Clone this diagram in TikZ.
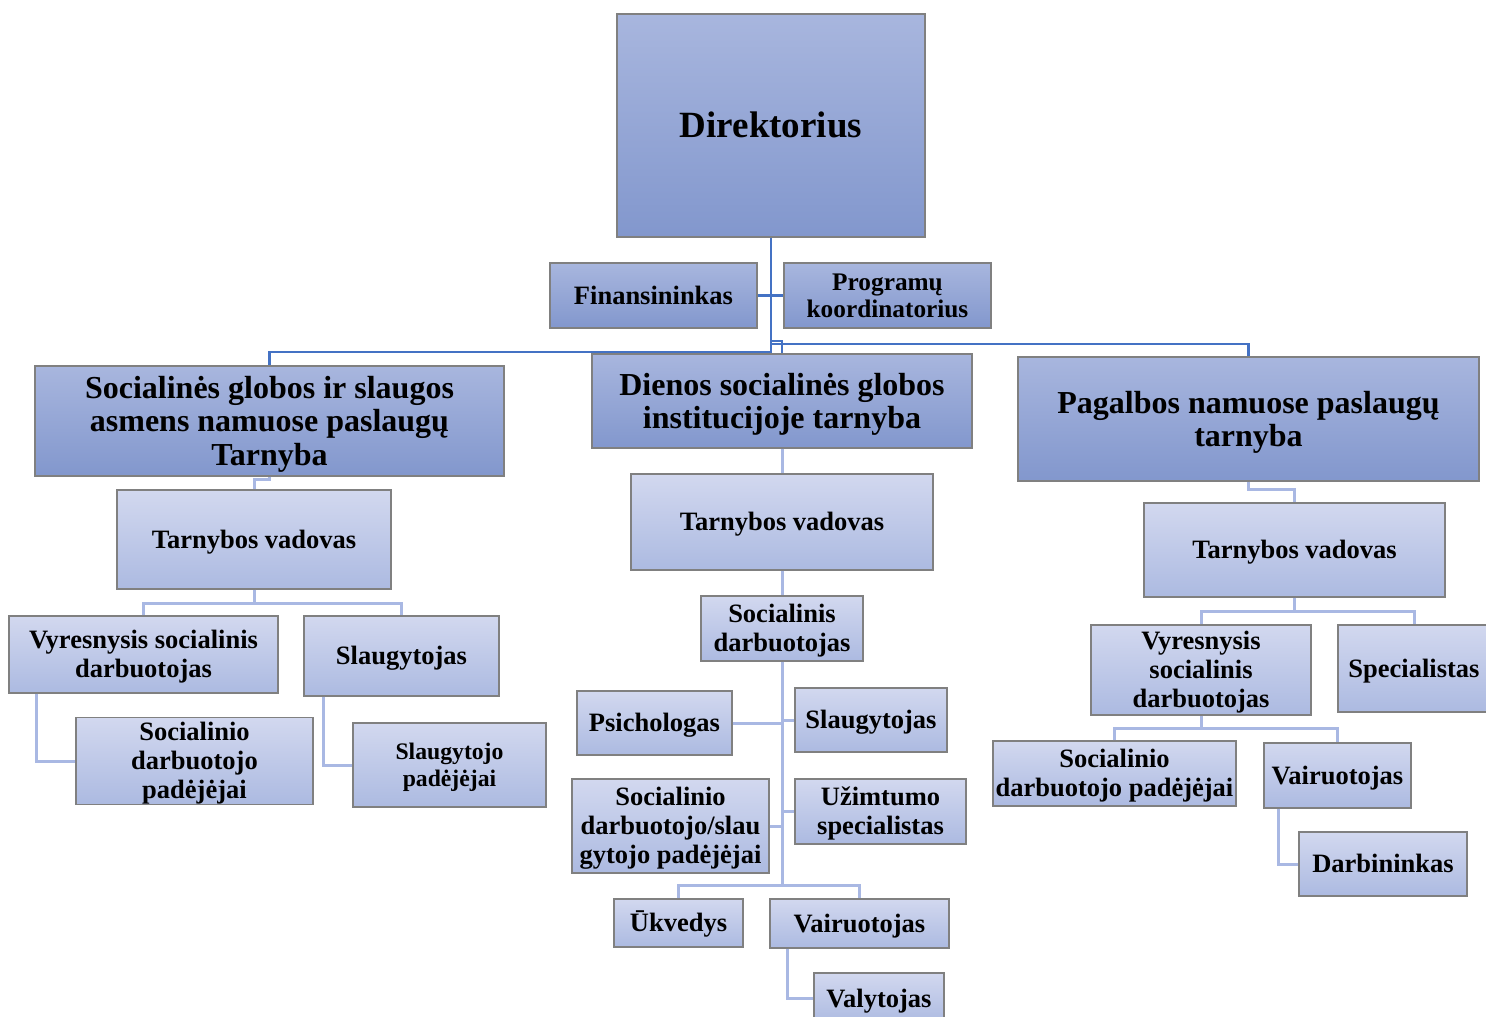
\documentclass[tikz,border=0pt]{standalone}
\usepackage{fontspec}
\setmainfont{Liberation Serif}
\newcommand\wsta{\rule{0pt}{0.891em}}
\newcommand\wstb{\rule[-0.216em]{0pt}{0.216em}}
\begin{document}
\begin{tikzpicture}[x=1pt,y=-1pt,
  boxbase/.style={draw=black!50, line width=1.2pt, inner sep=0pt, align=center, text=black},
  top/.style={boxbase, top color=topA, bottom color=topB},
  low/.style={boxbase, top color=lowA, bottom color=lowB},
  fD/.style={font=\fontsize{37}{40}\selectfont\bfseries},
  fS/.style={font=\fontsize{32}{33.5}\selectfont\bfseries},
  fN/.style={font=\fontsize{26.5}{29}\selectfont\bfseries},
  fP/.style={font=\fontsize{25.3}{27}\selectfont\bfseries},
  fSm/.style={font=\fontsize{23.7}{27}\selectfont\bfseries},
  lone/.style={draw=lineA, line width=2.5pt},
  ltwo/.style={draw=lineB, line width=3pt}]
\definecolor{topA}{HTML}{A8B6DE}
\definecolor{topB}{HTML}{8297CD}
\definecolor{lowA}{HTML}{D2D8EF}
\definecolor{lowB}{HTML}{ACBAE1}
\definecolor{lineA}{HTML}{4472C4}
\definecolor{lineB}{HTML}{A9B8E3}
\newcommand\bx[7]{\node[#6, minimum width={#4-#2}, minimum height={#5-#3}] (#1) at ({(#2+#4)/2},{(#3+#5)/2}) {\wsta #7\wstb};}
\useasboundingbox (0,0) rectangle (1486,1017);
\clip (0,0) rectangle (1486,1017);
\fill[white] (0,0) rectangle (1486,1017);

\bx{dir}{617}{14}{925}{237}{top,fD}{Direktorius}
\bx{fin}{550}{263}{757}{328}{top,fN}{Finansininkas}
\bx{prog}{784}{263}{991}{328}{top,fP}{Programų\\koordinatorius}
\bx{sec1}{35}{366}{504}{476}{top,fS}{Socialinės globos ir slaugos\\asmens namuose paslaugų\\Tarnyba}
\bx{sec2}{592}{354}{972}{448}{top,fS}{Dienos socialinės globos\\institucijoje tarnyba}
\bx{sec3}{1018}{357}{1479}{481}{top,fS}{Pagalbos namuose paslaugų\\tarnyba}
\bx{tv1}{117}{490}{391}{589}{low,fN}{Tarnybos vadovas}
\bx{tv2}{631}{474}{933}{570}{low,fN}{Tarnybos vadovas}
\bx{tv3}{1144}{503}{1445}{597}{low,fN}{Tarnybos vadovas}
\bx{vyr1}{9}{616}{278}{693}{low,fN}{Vyresnysis socialinis\\darbuotojas}
\bx{sla1}{304}{616}{499}{696}{low,fN}{Slaugytojas}
\bx{sdp1}{76}{720}{313}{802}{low,fN}{Socialinio\\darbuotojo\\padėjėjai}
\bx{slp1}{353}{723}{546}{807}{low,fSm}{Slaugytojo\\padėjėjai}
\bx{soc}{701}{596}{863}{661}{low,fN}{Socialinis\\darbuotojas}
\bx{psi}{577}{691}{732}{755}{low,fN}{Psichologas}
\bx{sla2}{795}{688}{947}{752}{low,fN}{Slaugytojas}
\bx{sds}{572}{779}{769}{873}{low,fN}{Socialinio\\darbuotojo/slau\\gytojo padėjėjai}
\bx{uzi}{795}{779}{966}{844}{low,fN}{Užimtumo\\specialistas}
\bx{uk}{614}{899}{743}{947}{low,fN}{Ūkvedys}
\bx{vai2}{770}{899}{949}{948}{low,fN}{Vairuotojas}
\bx{val}{814}{973}{944}{1024}{low,fN}{Valytojas}
\bx{vyr3}{1091}{625}{1311}{715}{low,fN}{Vyresnysis\\socialinis\\darbuotojas}
\bx{spe}{1338}{625}{1490}{712}{low,fN}{Specialistas}
\bx{sdp3}{993}{741}{1236}{806}{low,fN}{Socialinio\\darbuotojo padėjėjai}
\bx{vai3}{1264}{743}{1411}{808}{low,fN}{Vairuotojas}
\bx{dar}{1299}{832}{1467}{896}{low,fN}{Darbininkas}

% top-level connectors
\coordinate (t1) at (771,352);
\coordinate (j2) at (771,341);
\coordinate (j3) at (771,344);
\draw[lone] (dir.south) -- (t1) -| (sec1.north);
\draw[lone] (fin.east) -- (prog.west);
\draw[lone] (j2) -| (sec2.north);
\draw[lone] (j3) -| (sec3.north);

% left branch
\draw[ltwo] (sec1.south) -- ++(0,3) -| (tv1.north);
\draw[ltwo] (tv1.south) -- ++(0,14) coordinate (b1);
\draw[ltwo] (vyr1.north) |- (b1) -| (sla1.north);
\draw[ltwo] ([xshift=28pt]vyr1.south west) |- (sdp1.west);
\draw[ltwo] ([xshift=20pt]sla1.south west) |- (slp1.west);

% middle branch
\draw[ltwo] (sec2.south) -- (tv2.north);
\draw[ltwo] (tv2.south) -- (soc.north);
\draw[ltwo] (soc.south) -- ++(0,224) coordinate (b2);
\draw[ltwo] (uk.north) |- (b2) -| (vai2.north);
\draw[ltwo] (psi.east) -- (psi.east -| soc.south);
\draw[ltwo] (sla2.west) -- (sla2.west -| soc.south);
\draw[ltwo] (sds.east) -- (sds.east -| soc.south);
\draw[ltwo] (uzi.west) -- (uzi.west -| soc.south);
\draw[ltwo] ([xshift=18pt]vai2.south west) |- (val.west);

% right branch
\draw[ltwo] (sec3.south) -- ++(0,8) -| (tv3.north);
\draw[ltwo] (tv3.south) -- ++(0,14) coordinate (b3);
\draw[ltwo] (vyr3.north) |- (b3) -| (spe.north);
\draw[ltwo] (vyr3.south) -- ++(0,13) coordinate (b4);
\draw[ltwo] (sdp3.north) |- (b4) -| (vai3.north);
\draw[ltwo] ([xshift=15pt]vai3.south west) |- (dar.west);
\end{tikzpicture}
\end{document}
